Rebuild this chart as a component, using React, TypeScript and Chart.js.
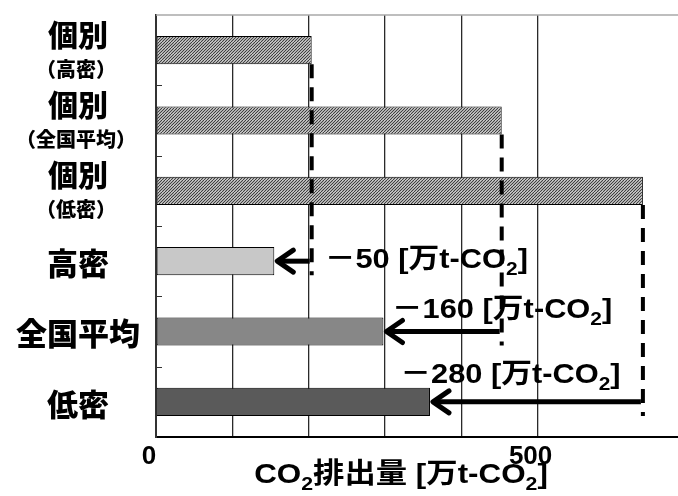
import React, { useEffect, useRef } from "react";
import { Chart, registerables } from "chart.js";

Chart.register(...registerables);

// ---- data ----
const categoryMain = ["個別", "個別", "個別", "高密", "全国平均", "低密"];
const categorySub = ["（高密）", "（全国平均）", "（低密）", "", "", ""];
const emissions = [204, 453, 638, 155, 298, 359];
const reductionLabels = ["－50", "－160", "－280"];
const labeledTicks = [0, 500];
const xMax = 684;

// ---- annotation placement (layout, not data) ----
const annotLeftValue = [221, 309, 320];
const annotBaselineOffset = [7, -14, -19];

const FAMILY = '"Liberation Sans", "Noto Sans CJK JP", sans-serif';
const CJK = '"Noto Sans CJK JP", "Liberation Sans", sans-serif';

type Seg = { t: string; sub?: boolean };

function drawRich(
  ctx: CanvasRenderingContext2D,
  segs: Seg[],
  x: number,
  y: number,
  size: number,
  stretch: number,
  align: "left" | "center"
) {
  ctx.save();
  const f = (s: Seg) => `bold ${s.sub ? Math.round(size * 0.68) : size}px ${FAMILY}`;
  let w = 0;
  for (const s of segs) {
    ctx.font = f(s);
    w += ctx.measureText(s.t).width;
  }
  const sx = align === "center" ? x - (w * stretch) / 2 : x;
  ctx.translate(sx, y);
  ctx.scale(stretch, 1);
  ctx.textAlign = "left";
  ctx.textBaseline = "alphabetic";
  ctx.fillStyle = "#000";
  let cx = 0;
  for (const s of segs) {
    ctx.font = f(s);
    ctx.fillText(s.t, cx, s.sub ? size * 0.26 : 0);
    cx += ctx.measureText(s.t).width;
  }
  ctx.restore();
}

function makeHatch(): CanvasPattern | string {
  const c = document.createElement("canvas");
  c.width = 6;
  c.height = 6;
  const g = c.getContext("2d");
  if (!g) return "#999";
  g.fillStyle = "#e6e6e6";
  g.fillRect(0, 0, 6, 6);
  g.strokeStyle = "#3a3a3a";
  g.lineWidth = 1.1;
  g.beginPath();
  for (let k = -6; k <= 12; k += 3) {
    g.moveTo(k, 0);
    g.lineTo(k - 6, 6);
  }
  g.stroke();
  const p = g.createPattern(c, "repeat");
  return p || "#999";
}

const overlay = {
  id: "overlay",
  afterDatasetsDraw(chart: any) {
    const { ctx, chartArea } = chart;
    const xs = chart.scales.x;
    const ys = chart.scales.y;
    const meta = chart.getDatasetMeta(0);
    ctx.save();
    // top border
    ctx.strokeStyle = "#a8a8a8";
    ctx.lineWidth = 1.5;
    ctx.beginPath();
    ctx.moveTo(chartArea.left, chartArea.top);
    ctx.lineTo(chartArea.right, chartArea.top);
    ctx.stroke();
    // inward category tick marks
    ctx.strokeStyle = "#333";
    ctx.lineWidth = 1;
    ctx.beginPath();
    for (let i = 1; i < categoryMain.length; i++) {
      const yy = Math.round((ys.getPixelForValue(i - 1) + ys.getPixelForValue(i)) / 2) + 0.5;
      ctx.moveTo(chartArea.left, yy);
      ctx.lineTo(chartArea.left + 6, yy);
    }
    ctx.stroke();

    for (let k = 0; k < 3; k++) {
      const ib = meta.data[k];
      const ab = meta.data[k + 3];
      const xi = xs.getPixelForValue(emissions[k]);
      const xa = xs.getPixelForValue(emissions[k + 3]);
      const yTop = ib.y + ib.height / 2;
      const yBot = ab.y + ab.height / 2;
      // dashed line
      ctx.strokeStyle = "#000";
      ctx.lineWidth = 4;
      ctx.setLineDash([14, 9]);
      ctx.beginPath();
      ctx.moveTo(xi, yTop);
      ctx.lineTo(xi, yBot);
      ctx.stroke();
      ctx.setLineDash([]);
      // arrow
      const ay = ab.y;
      ctx.lineWidth = 5;
      ctx.beginPath();
      ctx.moveTo(xi - 2, ay);
      ctx.lineTo(xa + 4, ay);
      ctx.stroke();
      ctx.lineJoin = "round";
      ctx.lineCap = "round";
      ctx.beginPath();
      ctx.moveTo(xa + 19, ay - 11);
      ctx.lineTo(xa + 3, ay);
      ctx.lineTo(xa + 19, ay + 11);
      ctx.stroke();
      ctx.lineCap = "butt";
      ctx.lineJoin = "miter";
      // label
      drawRich(
        ctx,
        [{ t: reductionLabels[k] + " [万t-CO" }, { t: "2", sub: true }, { t: "]" }],
        xs.getPixelForValue(annotLeftValue[k]),
        ab.y + annotBaselineOffset[k],
        28,
        1.1,
        "left"
      );
    }
    ctx.restore();
  },
  afterDraw(chart: any) {
    const { ctx, chartArea } = chart;
    const ys = chart.scales.y;
    ctx.save();
    ctx.fillStyle = "#000";
    ctx.textAlign = "center";
    ctx.textBaseline = "middle";
    const cx = 78;
    for (let i = 0; i < categoryMain.length; i++) {
      const cy = ys.getPixelForValue(i);
      if (categorySub[i]) {
        ctx.font = `900 30px ${CJK}`;
        ctx.fillText(categoryMain[i], cx, cy - 16);
        ctx.font = `900 20px ${CJK}`;
        ctx.fillText(categorySub[i], cx - 2, cy + 19);
      } else {
        ctx.font = `900 31px ${CJK}`;
        ctx.fillText(categoryMain[i], cx, cy + 2);
      }
    }
    ctx.restore();
    // x axis title
    drawRich(
      ctx,
      [{ t: "CO" }, { t: "2", sub: true }, { t: "排出量 [万t-CO" }, { t: "2", sub: true }, { t: "]" }],
      (chartArea.left + chartArea.right) / 2 - 16,
      chartArea.bottom + 46,
      28,
      1.12,
      "center"
    );
  },
};

export default function App() {
  const ref = useRef<HTMLCanvasElement | null>(null);
  useEffect(() => {
    document.body.style.margin = "0";
    const canvas = ref.current;
    if (!canvas) return;
    const hatch = makeHatch();
    const colors = [hatch, hatch, hatch, "#c8c8c8", "#878787", "#5a5a5a"];
    const chart = new Chart(canvas, {
      type: "bar",
      data: {
        labels: categoryMain.map((m, i) => (categorySub[i] ? [m, categorySub[i]] : m)),
        datasets: [
          {
            data: emissions,
            backgroundColor: colors as any,
            borderColor: "#000",
            borderWidth: 1,
            borderSkipped: false,
            barPercentage: 0.4,
            categoryPercentage: 1,
          },
        ],
      },
      options: {
        indexAxis: "y",
        responsive: false,
        animation: false,
        layout: { padding: { top: 15, left: 0, right: 0, bottom: 0 } },
        plugins: { legend: { display: false }, tooltip: { enabled: false } },
        scales: {
          x: {
            type: "linear",
            min: 0,
            max: xMax,
            afterBuildTicks: (scale: any) => {
              scale.ticks = scale.ticks.filter((t: any) => t.value % 100 === 0);
            },
            afterFit: (scale: any) => {
              scale.height = 59;
            },
            ticks: {
              stepSize: 100,
              autoSkip: false,
              maxRotation: 0,
              padding: 4,
              labelOffset: -7,
              color: "#000",
              font: { family: FAMILY, size: 26, weight: "bold" },
              callback: (v: any) => (labeledTicks.includes(Number(v)) ? String(v) : ""),
            },
            grid: { color: "#2a2a2a", lineWidth: 1.3, drawTicks: false },
            border: { display: true, color: "#000", width: 2 },
          },
          y: {
            type: "category",
            afterFit: (scale: any) => {
              scale.width = 156;
            },
            ticks: { display: false },
            grid: { display: false },
            border: { display: true, color: "#333", width: 2 },
          },
        },
      },
      plugins: [overlay],
    });
    return () => chart.destroy();
  }, []);
  return (
    <div style={{ width: 678, height: 496 }}>
      <canvas ref={ref} width={678} height={496} style={{ display: "block" }} />
    </div>
  );
}
